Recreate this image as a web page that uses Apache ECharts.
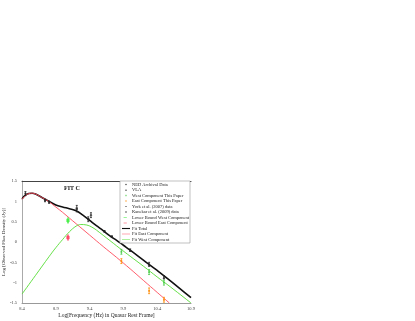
<!DOCTYPE html>
<html><head><meta charset="utf-8">
<script src="https://cdn.jsdelivr.net/npm/echarts@6/dist/echarts.min.js"></script>
<style>html,body{margin:0;padding:0;background:#fff}#c{width:415px;height:321px}</style>
</head><body><div id="c"></div>
<script>
const xTicks = [8.4, 8.9, 9.4, 9.9, 10.4, 10.9];
const fitTotal = [[8.40,1.06],[8.45,1.15],[8.50,1.19],[8.55,1.20],[8.60,1.18],[8.70,1.09],[8.80,1.00],[8.90,0.91],[9.00,0.86],[9.10,0.82],[9.20,0.77],[9.30,0.66],[9.40,0.53],[9.50,0.40],[9.60,0.28],[9.70,0.15],[9.80,0.04],[9.90,-0.08],[10.00,-0.20],[10.20,-0.45],[10.40,-0.70],[10.60,-0.96],[10.90,-1.37]];
const fitEast = [[8.40,1.05],[8.45,1.14],[8.50,1.19],[8.55,1.20],[8.60,1.18],[8.70,1.09],[8.80,0.99],[8.90,0.86],[9.00,0.73],[9.10,0.59],[9.20,0.45],[9.40,0.17],[9.60,-0.11],[9.80,-0.38],[10.00,-0.66],[10.20,-0.95],[10.40,-1.24],[10.58,-1.50]];
const fitWest = [[8.40,-1.28],[8.60,-0.82],[8.80,-0.36],[8.90,-0.14],[9.00,0.06],[9.10,0.25],[9.20,0.39],[9.27,0.43],[9.35,0.42],[9.45,0.35],[9.55,0.23],[9.65,0.10],[9.75,-0.03],[9.85,-0.16],[10.00,-0.35],[10.20,-0.60],[10.40,-0.86],[10.60,-1.11],[10.90,-1.50]];
// [x, y, error]
const nedData = [[8.45,1.19,0.05],[8.74,1.02,0.03],[8.80,0.98,0.03],[9.62,0.26,0.02],[9.73,0.13,0.02]];
const vlaData = [[10.00,-0.20,0.03],[10.28,-0.55,0.05],[10.50,-0.87,0.04]];
const westData = [[9.87,-0.24,0.06],[10.28,-0.74,0.06],[10.50,-1.00,0.06]];
const eastData = [[9.87,-0.47,0.06],[10.28,-1.20,0.07],[10.50,-1.42,0.06]];
const yorkData = [[9.21,0.82,0.08],[9.38,0.56,0.06]];
const kanekarData = [[9.42,0.66,0.06]];
const lbWestData = [[9.08,0.53,0.06]];
const lbEastData = [[9.08,0.11,0.06]];

const FF = 'Liberation Serif';
const BOX = 'M0,0M20,10';
const LINE_ICON = 'path://' + BOX + 'M0,4.4H20V5.6H0Z';
const THICK_ICON = 'path://' + BOX + 'M0,3.6H20V6.4H0Z';
const SHORT_ICON = 'path://' + BOX + 'M4,4.2H12V5.8H4Z';
const CIRCLE_ICON = 'path://' + BOX + 'M8,5A2,2 0 1 1 12,5A2,2 0 1 1 8,5Z';
const TRI_ICON = 'path://' + BOX + 'M10,2.5L12.5,7H7.5Z';
const SQ_ICON = 'path://' + BOX + 'M8.5,3.5H11.5V6.5H8.5Z';
const PLUS_ICON = 'path://' + BOX + 'M9.4,2.5H10.6V4.4H12.5V5.6H10.6V7.5H9.4V5.6H7.5V4.4H9.4Z';
const DIA_ICON = 'path://' + BOX + 'M10,2.3L12.5,5L10,7.7L7.5,5Z';
function errSeries(arr, color){
  return {type:'custom', silent:true, z:3, encode:{x:0,y:1}, data:arr,
    renderItem:(p, api)=>{
      const x=api.value(0), y=api.value(1), e=api.value(2);
      const a=api.coord([x,y-e]), b=api.coord([x,y+e]);
      const st={stroke:color,lineWidth:0.8};
      return {type:'group', children:[
        {type:'line', shape:{x1:a[0],y1:a[1],x2:b[0],y2:b[1]}, style:st},
        {type:'line', shape:{x1:a[0]-1,y1:a[1],x2:a[0]+1,y2:a[1]}, style:st},
        {type:'line', shape:{x1:b[0]-1,y1:b[1],x2:b[0]+1,y2:b[1]}, style:st}]};
    }};
}
function sc(name, arr, color, symbol, size){
  return {type:'scatter', name, data:arr.map(p=>[p[0],p[1]]), symbol, symbolSize:size, itemStyle:{color}, z:4};
}
const chart = echarts.init(document.getElementById('c'), null, {renderer:'canvas'});
chart.setOption({
  animation:false,
  backgroundColor:'#fff',
  textStyle:{fontFamily:FF},
  grid:{left:20, top:181, width:171, height:122},
  xAxis:[{type:'value', min:8.4, max:10.9,
    name:'Log[Frequency (Hz) in Quasar Rest Frame]', nameLocation:'middle', nameGap:10,
    nameTextStyle:{fontSize:5.5, color:'#222', fontFamily:FF},
    axisLine:{onZero:false, lineStyle:{color:'#999', width:1}}, axisTick:{show:false}, splitLine:{show:false},
    axisLabel:{customValues:xTicks, fontSize:4.5, color:'#444', margin:3, fontFamily:FF, formatter:v=>v.toFixed(1)}},
   {type:'value', min:8.4, max:10.9, position:'top', axisLine:{show:true, onZero:false, lineStyle:{color:'#444', width:1}},
    axisTick:{show:false}, axisLabel:{show:false}, splitLine:{show:false}}],
  yAxis:{type:'value', min:-1.5, max:1.5, interval:0.5,
    name:'Log [Observed Flux Density (Jy)]', nameLocation:'middle', nameGap:11,
    nameTextStyle:{fontSize:5, color:'#222', fontFamily:FF},
    axisLine:{show:true, onZero:false, lineStyle:{color:'#aaa', width:1}}, axisTick:{show:false}, splitLine:{show:false},
    axisLabel:{fontSize:4.5, color:'#444', margin:5, fontFamily:FF}},
  legend:{orient:'vertical', left:120, top:181, padding:[1,1,1,2], itemGap:0.5, itemWidth:8, itemHeight:4,
    backgroundColor:'#fff', borderColor:'#999', borderWidth:0.6,
    textStyle:{fontSize:4.5, lineHeight:5, color:'#222', fontFamily:FF, padding:[0,0,0,-3]},
    data:[{name:'NED Archival Data', icon:CIRCLE_ICON},{name:'VLA', icon:TRI_ICON},
      {name:'West Component This Paper', icon:PLUS_ICON},{name:'East Component This Paper', icon:PLUS_ICON},
      {name:'York et al. (2007) data', icon:SQ_ICON},{name:'Kanekar et al. (2009) data', icon:DIA_ICON},
      {name:'Lower Bound West Component', icon:SHORT_ICON},{name:'Lower Bound East Component', icon:SHORT_ICON},
      {name:'Fit Total', icon:THICK_ICON},{name:'Fit East Component', icon:LINE_ICON},{name:'Fit West Component', icon:LINE_ICON}]},
  graphic:[{type:'text', left:64, top:185, style:{text:'FIT C', fontSize:6, fontWeight:'bold', fill:'#111', fontFamily:FF}}],
  series:[
    {type:'line', name:'Fit Total', data:fitTotal, smooth:0.4, showSymbol:false, symbol:'none', lineStyle:{color:'#111', width:1.6}, itemStyle:{color:'#111'}, z:2},
    {type:'line', name:'Fit East Component', data:fitEast, smooth:0.4, showSymbol:false, symbol:'none', lineStyle:{color:'#ff4a5a', width:0.9}, itemStyle:{color:'#ff4a5a'}, z:2},
    {type:'line', name:'Fit West Component', data:fitWest, smooth:0.4, showSymbol:false, symbol:'none', lineStyle:{color:'#55dd33', width:0.9}, itemStyle:{color:'#55dd33'}, z:2},
    errSeries(nedData,'#222'), errSeries(vlaData,'#222'), errSeries(westData,'#44cc44'), errSeries(eastData,'#ff8a00'),
    errSeries(yorkData,'#222'), errSeries(kanekarData,'#222'), errSeries(lbWestData,'#33ee33'), errSeries(lbEastData,'#ff3355'),
    sc('NED Archival Data', nedData, '#222', 'circle', 2.2),
    sc('VLA', vlaData, '#222', 'triangle', 2.6),
    sc('West Component This Paper', westData, '#44cc44', 'rect', 1.8),
    sc('East Component This Paper', eastData, '#ff8a00', 'rect', 1.8),
    sc('York et al. (2007) data', yorkData, '#222', 'rect', 2.4),
    sc('Kanekar et al. (2009) data', kanekarData, '#333', 'diamond', 2.8),
    sc('Lower Bound West Component', lbWestData, '#33ee33', 'rect', 3.2),
    sc('Lower Bound East Component', lbEastData, '#ff3355', 'rect', 3.2)
  ]
});
</script></body></html>
